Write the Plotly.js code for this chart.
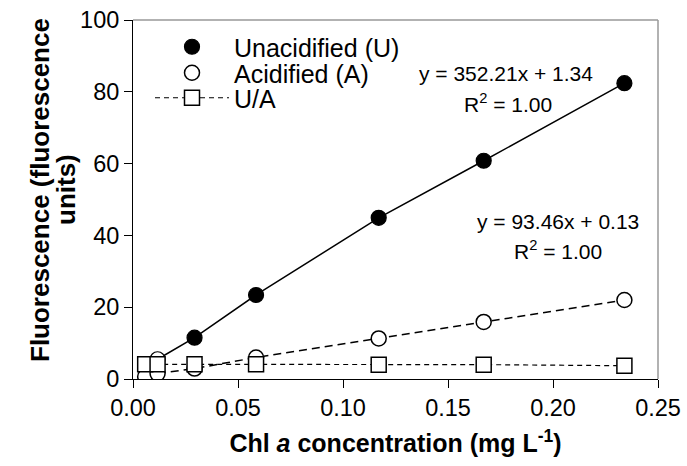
<!DOCTYPE html>
<html>
<head>
<meta charset="utf-8">
<script src="https://cdn.plot.ly/plotly-3.0.1.min.js"></script>
<style>html,body{margin:0;padding:0;background:#fff}#chart{width:687px;height:466px}</style>
</head>
<body>
<div id="chart"></div>
<script>
// Chl a concentration (mg L-1)
var conc = [0.0058, 0.0117, 0.0293, 0.0586, 0.117, 0.167, 0.234];
// Unacidified fluorescence (U)
var unacidified = [3.4, 5.5, 11.5, 23.4, 44.9, 60.8, 82.4];
// Acidified fluorescence (A)
var acidified = [0.7, 1.5, 2.9, 6.0, 11.3, 15.9, 22.0];
// Ratio U/A
var ratioUA = [4.1, 4.1, 4.1, 4.1, 4.0, 4.0, 3.7];

var seriesNames = ['Unacidified (U)', 'Acidified (A)', 'U/A'];
var fitLabelsU = ['y = 352.21x + 1.34', 'R<sup>2</sup> = 1.00'];
var fitLabelsA = ['y = 93.46x + 0.13', 'R<sup>2</sup> = 1.00'];
var yTitleLines = ['Fluorescence (fluorescence', 'units)'];
var xTicks = [0, 0.05, 0.10, 0.15, 0.20, 0.25];
var yTicks = [0, 20, 40, 60, 80, 100];

// style only: the two lowest unacidified points are drawn hollow (hidden behind the U/A squares)
var uFill = ['#fff', '#fff', '#000', '#000', '#000', '#000', '#000'];

// marker trace for U is drawn from highest to lowest so its legend symbol is the filled one
var concDesc = conc.slice().reverse();
var unacidifiedDesc = unacidified.slice().reverse();
var uFillDesc = uFill.slice().reverse();

var FONT = 'Liberation Sans, Arial, sans-serif';

var traces = [
  {x: conc, y: unacidified, mode: 'lines', showlegend: false, hoverinfo: 'skip',
   line: {color: '#000', width: 1.5}},
  {x: conc, y: acidified, mode: 'lines', showlegend: false, hoverinfo: 'skip',
   line: {color: '#000', width: 1.5, dash: '8px,5px'}},
  {x: concDesc, y: unacidifiedDesc, mode: 'markers', name: seriesNames[0], legend: 'legend',
   marker: {symbol: 'circle', size: 15, color: uFillDesc, line: {color: '#000', width: 1.2}}},
  {x: conc, y: acidified, mode: 'markers', name: seriesNames[1], legend: 'legend2',
   marker: {symbol: 'circle', size: 15, color: '#fff', line: {color: '#000', width: 1.5}}},
  {x: conc, y: ratioUA, mode: 'lines+markers', name: seriesNames[2], legend: 'legend3',
   line: {color: '#000', width: 1.2, dash: '5px,4px'},
   marker: {symbol: 'square', size: 15, color: '#fff', line: {color: '#000', width: 1.5}}}
];

function px2x(p){ return (p - 133) / 525; }
function px2y(p){ return (379 - p) / 359; }

var annFont = {family: FONT, size: 21, color: '#000'};
var titleFont = {family: FONT, size: 26, color: '#000'};
var annotations = [
  {xref: 'paper', yref: 'paper', x: px2x(506), y: px2y(73), text: fitLabelsU[0], showarrow: false, font: annFont, xanchor: 'center', yanchor: 'middle'},
  {xref: 'paper', yref: 'paper', x: px2x(508), y: px2y(103), text: fitLabelsU[1], showarrow: false, font: annFont, xanchor: 'center', yanchor: 'middle'},
  {xref: 'paper', yref: 'paper', x: px2x(558), y: px2y(222), text: fitLabelsA[0], showarrow: false, font: annFont, xanchor: 'center', yanchor: 'middle'},
  {xref: 'paper', yref: 'paper', x: px2x(558), y: px2y(250), text: fitLabelsA[1], showarrow: false, font: annFont, xanchor: 'center', yanchor: 'middle'},
  {xref: 'paper', yref: 'paper', x: px2x(40), y: px2y(190), text: '<b>' + yTitleLines[0] + '</b>', textangle: -90, showarrow: false, font: titleFont, xanchor: 'center', yanchor: 'middle'},
  {xref: 'paper', yref: 'paper', x: px2x(66), y: px2y(190), text: '<b>' + yTitleLines[1] + '</b>', textangle: -90, showarrow: false, font: titleFont, xanchor: 'center', yanchor: 'middle'}
];

function legendAt(rowY){
  return {
    x: px2x(150), y: px2y(rowY), xanchor: 'left', yanchor: 'middle',
    bgcolor: 'rgba(0,0,0,0)', borderwidth: 0, itemwidth: 74,
    font: {family: FONT, size: 25, color: '#000'}
  };
}

var layout = {
  width: 687, height: 466,
  margin: {l: 133, r: 29, t: 20, b: 87, pad: 0},
  paper_bgcolor: '#fff', plot_bgcolor: '#fff',
  font: {family: FONT, size: 23, color: '#000'},
  xaxis: {
    range: [0, 0.25], tickvals: xTicks, tickformat: '.2f',
    showgrid: false, zeroline: false,
    showline: true, linecolor: '#000', linewidth: 1,
    ticks: 'outside', ticklen: 8, tickwidth: 1, tickcolor: '#000',
    tickfont: {family: FONT, size: 23.5, color: '#000'},
    title: {text: '<b>Chl <i>a</i> concentration (mg L<sup>-1</sup>)</b>', font: {family: FONT, size: 25, color: '#000'}, standoff: 14}
  },
  yaxis: {
    range: [0, 100], tickvals: yTicks,
    showgrid: false, zeroline: false,
    showline: true, linecolor: '#000', linewidth: 1,
    ticks: 'outside', ticklen: 8, tickwidth: 1, tickcolor: '#000',
    tickfont: {family: FONT, size: 23.5, color: '#000'}
  },
  legend: legendAt(47),
  legend2: legendAt(73),
  legend3: legendAt(98),
  shapes: [
    {type: 'line', xref: 'paper', yref: 'paper', x0: 0, x1: 1, y0: 1, y1: 1, line: {color: '#999', width: 1.5}},
    {type: 'line', xref: 'paper', yref: 'paper', x0: 1, x1: 1, y0: 0, y1: 1, line: {color: '#999', width: 1.5}}
  ],
  annotations: annotations,
  showlegend: true
};

Plotly.newPlot('chart', traces, layout, {staticPlot: true, displayModeBar: false});
</script>
</body>
</html>
